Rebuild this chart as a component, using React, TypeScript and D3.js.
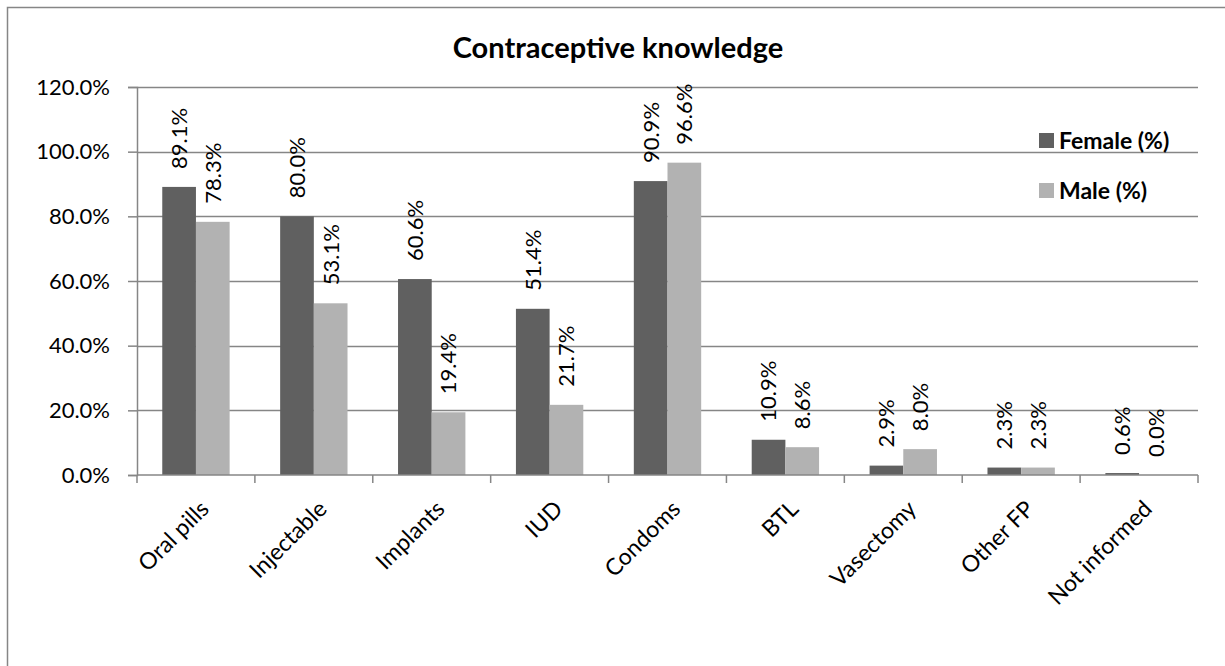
import React, { useRef, useEffect } from 'react';
import * as d3 from 'd3';

const categories = ['Oral pills', 'Injectable', 'Implants', 'IUD', 'Condoms', 'BTL', 'Vasectomy', 'Other FP', 'Not informed'];
const seriesNames = ['Female (%)', 'Male (%)'];
const female = [89.1, 80.0, 60.6, 51.4, 90.9, 10.9, 2.9, 2.3, 0.6];
const male = [78.3, 53.1, 19.4, 21.7, 96.6, 8.6, 8.0, 2.3, 0.0];
const yTicks = [0, 20, 40, 60, 80, 100, 120];

const COLORS = ['#606060', '#b2b2b2'];
const FONT = 'Lato, "Open Sans", sans-serif';

export default function App() {
    const ref = useRef<SVGSVGElement>(null);

    useEffect(() => {
        const svg = d3.select(ref.current);
        svg.selectAll('*').remove();

        const width = 1225;
        const height = 666;
        const marginLeft = 137;
        const marginRight = 27;
        const marginTop = 87;
        const marginBottom = 191;

        svg.attr('width', width).attr('height', height);

        // outer chart border (right and bottom edges fall outside the picture)
        svg.append('rect')
            .attr('x', 7.5).attr('y', 7.5)
            .attr('width', 1240).attr('height', 700)
            .attr('fill', 'white')
            .attr('stroke', '#868686')
            .attr('stroke-width', 1.5);

        const x = d3.scaleBand<string>()
            .domain(categories)
            .range([marginLeft, width - marginRight])
            .paddingInner(0).paddingOuter(0);

        // two bars per category, gap width 150%
        const x1 = d3.scaleBand<string>()
            .domain(seriesNames)
            .range([0, x.bandwidth()])
            .paddingInner(0).paddingOuter(0.75);

        const y = d3.scaleLinear()
            .domain([0, 120])
            .range([height - marginBottom, marginTop]);

        // gridlines
        svg.append('g')
            .selectAll('line')
            .data(yTicks.filter(t => t > 0))
            .join('line')
            .attr('x1', marginLeft).attr('x2', width - marginRight)
            .attr('y1', d => Math.round(y(d)) + 0.5).attr('y2', d => Math.round(y(d)) + 0.5)
            .attr('stroke', '#868686')
            .attr('stroke-width', 1.5);

        // y axis
        const yAxis = svg.append('g')
            .attr('transform', `translate(${marginLeft}, 0)`)
            .call(d3.axisLeft(y).tickValues(yTicks).tickSize(9).tickPadding(18)
                .tickFormat(d => `${(+d).toFixed(1)}%`));
        yAxis.select('.domain').attr('stroke', '#868686').attr('stroke-width', 1.5);
        yAxis.selectAll('.tick line').attr('stroke', '#868686').attr('stroke-width', 1.5);
        yAxis.selectAll('.tick text')
            .attr('font-family', FONT).attr('font-size', 22).attr('fill', '#000');

        // bars
        const series = [female, male];
        const groups = svg.append('g')
            .selectAll('g')
            .data(seriesNames)
            .join('g')
            .attr('fill', (d, i) => COLORS[i]);

        groups.selectAll('rect')
            .data((s, i) => series[i].map((v, j) => ({ cat: categories[j], v, s })))
            .join('rect')
            .attr('x', d => x(d.cat)! + x1(d.s)!)
            .attr('width', x1.bandwidth())
            .attr('y', d => y(d.v))
            .attr('height', d => y(0) - y(d.v));

        // value labels, rotated
        groups.selectAll('text')
            .data((s, i) => series[i].map((v, j) => ({ cat: categories[j], v, s })))
            .join('text')
            .attr('transform', d => `translate(${x(d.cat)! + x1(d.s)! + x1.bandwidth() / 2}, ${y(d.v) - 18}) rotate(-90)`)
            .attr('dy', '0.36em')
            .attr('text-anchor', 'start')
            .attr('fill', '#000')
            .attr('font-family', FONT)
            .attr('font-size', 22)
            .text(d => `${d.v.toFixed(1)}%`);

        // x axis
        const xAxis = svg.append('g')
            .attr('transform', `translate(0, ${height - marginBottom})`);
        xAxis.append('line')
            .attr('x1', marginLeft).attr('x2', width - marginRight)
            .attr('y1', 0).attr('y2', 0)
            .attr('stroke', '#868686').attr('stroke-width', 1.5);
        xAxis.selectAll('line.tick')
            .data([...categories.map(c => x(c)!), width - marginRight])
            .join('line')
            .attr('class', 'tick')
            .attr('x1', d => d).attr('x2', d => d)
            .attr('y1', 0).attr('y2', 8)
            .attr('stroke', '#868686').attr('stroke-width', 1.5);
        xAxis.selectAll('text')
            .data(categories)
            .join('text')
            .attr('transform', d => `translate(${x(d)! + x.bandwidth() / 2 + 3}, 24) rotate(-45)`)
            .attr('text-anchor', 'end')
            .attr('dy', '0.7em')
            .attr('fill', '#000')
            .attr('font-family', FONT)
            .attr('font-size', 23)
            .text(d => d);

        // title
        svg.append('text')
            .attr('x', 618).attr('y', 58)
            .attr('text-anchor', 'middle')
            .attr('font-family', FONT)
            .attr('font-weight', 'bold')
            .attr('font-size', 29)
            .text('Contraceptive knowledge');

        // legend
        const legend = svg.append('g')
            .selectAll('g')
            .data(seriesNames)
            .join('g')
            .attr('transform', (d, i) => `translate(1039, ${133 + i * 50})`);
        legend.append('rect')
            .attr('width', 15).attr('height', 15)
            .attr('fill', (d, i) => COLORS[i]);
        legend.append('text')
            .attr('x', 20).attr('y', 16)
            .attr('font-family', FONT)
            .attr('font-weight', 'bold')
            .attr('font-size', 23)
            .text(d => d);
    }, []);

    return <svg ref={ref} style={{ position: 'absolute', left: 0, top: 0 }} />;
}
